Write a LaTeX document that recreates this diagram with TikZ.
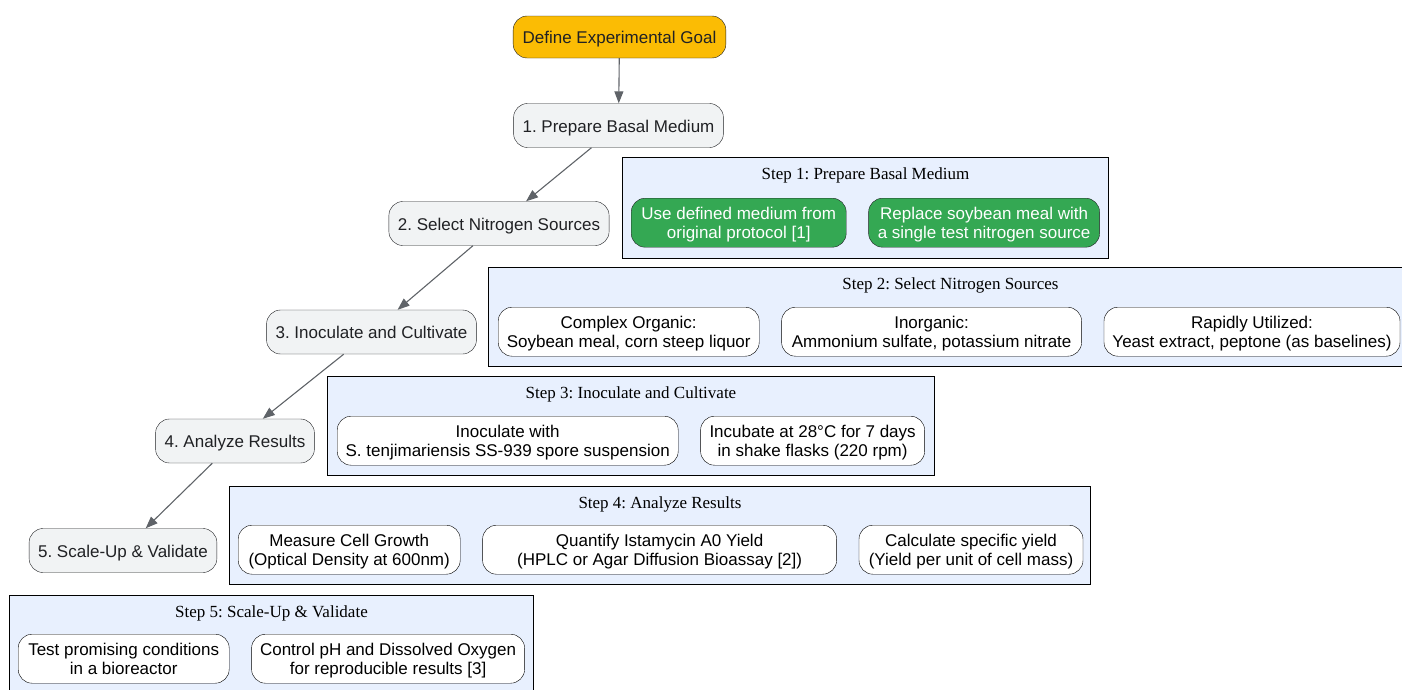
\documentclass[tikz,border=0pt]{standalone}
\usepackage{fontspec}
\setmainfont{Liberation Sans}
\newfontfamily\titlefont{Liberation Serif}
\usetikzlibrary{arrows.meta, positioning}
\definecolor{goalfill}{HTML}{FBBC04}
\definecolor{stagefill}{HTML}{F1F3F4}
\definecolor{clusterfill}{HTML}{E8F0FE}
\definecolor{actionfill}{HTML}{34A853}
\definecolor{edgegray}{HTML}{5F6368}
\definecolor{textdark}{HTML}{202124}
\newlength{\taskgap}
\setlength{\taskgap}{22pt}
\tikzstyle{goal} = [rectangle, rounded corners=14pt, draw=textdark, fill=goalfill, text=textdark, minimum height=42pt, inner xsep=9.5pt, text height=13pt, text depth=0pt, font=\fontsize{17}{19.5}\selectfont]
\tikzstyle{stage} = [rectangle, rounded corners=14pt, draw=textdark, fill=stagefill, text=textdark, minimum height=44pt, inner xsep=9pt, text height=13pt, text depth=0pt, font=\fontsize{17}{19.5}\selectfont]
\tikzstyle{task} = [rectangle, rounded corners=14pt, draw=black, fill=white, text=black, align=center, minimum height=49pt, inner xsep=6pt, text depth=-2pt, font=\fontsize{17}{19.5}\selectfont]
\tikzstyle{greentask} = [task, fill=actionfill, text=white, draw=textdark]
\tikzstyle{cluster} = [rectangle, draw=black, line width=0.9pt, fill=clusterfill, inner sep=0pt, anchor=north west]
\tikzstyle{clustertitle} = [inner sep=0pt, font=\titlefont\fontsize{17}{19.5}\selectfont]
\tikzstyle{arrow} = [draw=edgegray, line width=1.1pt, -{Triangle[length=12pt, width=9pt]}]

\begin{document}
\frenchspacing
\begin{tikzpicture}[x=1pt, y=1pt]

    \useasboundingbox (0,0) rectangle (1402,-689);
    \clip (0,0) rectangle (1402,-689);

    % Main steps
    \node (goal) [goal] at (619.5,-37) {Define Experimental Goal};
    \node (prep) [stage, below of=goal, node distance=88.5pt, xshift=-1pt] {1. Prepare Basal Medium};
    \node (select) [stage, below of=prep, node distance=98pt, xshift=-119.5pt] {2. Select Nitrogen Sources};
    \node (inoc) [stage, below of=select, node distance=108.5pt, xshift=-127.5pt] {3. Inoculate and Cultivate};
    \node (analyze) [stage, below of=inoc, node distance=109pt, xshift=-136.5pt] {4. Analyze Results};
    \node (scale) [stage, below of=analyze, node distance=109.5pt, xshift=-112pt] {5. Scale-Up \& Validate};

    % Step 1
    \node (box1) [cluster, minimum width=486pt, minimum height=101pt] at (622,-157) {};
    \node (title1) [clustertitle, below=10pt of box1.north] {Step 1: Prepare Basal Medium};
    \node (defined) [greentask, minimum width=215pt, below right=41pt and 9pt of box1.north west] {Use defined medium from\\original protocol [1]};
    \node (replace) [greentask, minimum width=231pt, right=\taskgap of defined] {Replace soybean meal with\\a single test nitrogen source};

    % Step 2
    \node (box2) [cluster, minimum width=924pt, minimum height=99pt] at (488,-267) {};
    \node (title2) [clustertitle, below=10pt of box2.north] {Step 2: Select Nitrogen Sources};
    \node (organic) [task, minimum width=261pt, below right=40pt and 10pt of box2.north west] {Complex Organic:\\Soybean meal, corn steep liquor};
    \node (inorganic) [task, minimum width=300pt, right=\taskgap of organic] {Inorganic:\\Ammonium sulfate, potassium nitrate};
    \node (rapid) [task, minimum width=296pt, right=\taskgap of inorganic] {Rapidly Utilized:\\Yeast extract, peptone (as baselines)};

    % Step 3
    \node (box3) [cluster, minimum width=607pt, minimum height=99pt] at (327,-376) {};
    \node (title3) [clustertitle, below=10pt of box3.north] {Step 3: Inoculate and Cultivate};
    \node (spores) [task, minimum width=341pt, below right=40pt and 10pt of box3.north west] {Inoculate with\\S. tenjimariensis SS-939 spore suspension};
    \node (incubate) [task, minimum width=224pt, right=\taskgap of spores] {Incubate at 28°C for 7 days\\in shake flasks (220 rpm)};

    % Step 4
    \node (box4) [cluster, minimum width=861pt, minimum height=98pt] at (229,-486) {};
    \node (title4) [clustertitle, below=10pt of box4.north] {Step 4: Analyze Results};
    \node (growth) [task, minimum width=222pt, below right=39pt and 9pt of box4.north west] {Measure Cell Growth\\(Optical Density at 600nm)};
    \node (quantify) [task, minimum width=354pt, right=\taskgap of growth] {Quantify Istamycin A0 Yield\\(HPLC or Agar Diffusion Bioassay [2])};
    \node (specific) [task, minimum width=224pt, right=\taskgap of quantify] {Calculate specific yield\\(Yield per unit of cell mass)};

    % Step 5
    \node (box5) [cluster, minimum width=524pt, minimum height=100pt] at (9,-595) {};
    \node (title5) [clustertitle, below=10pt of box5.north] {Step 5: Scale-Up \& Validate};
    \node (reactor) [task, minimum width=211pt, below right=39pt and 9pt of box5.north west] {Test promising conditions\\in a bioreactor};
    \node (control) [task, minimum width=273pt, right=\taskgap of reactor] {Control pH and Dissolved Oxygen\\for reproducible results [3]};

    % ==== Arrows
    \draw [arrow] (goal) -- (prep);
    \draw [arrow] (prep) -- (select);
    \draw [arrow] (select) -- (inoc);
    \draw [arrow] (inoc) -- (analyze);
    \draw [arrow] (analyze) -- (scale);

\end{tikzpicture}
\end{document}
